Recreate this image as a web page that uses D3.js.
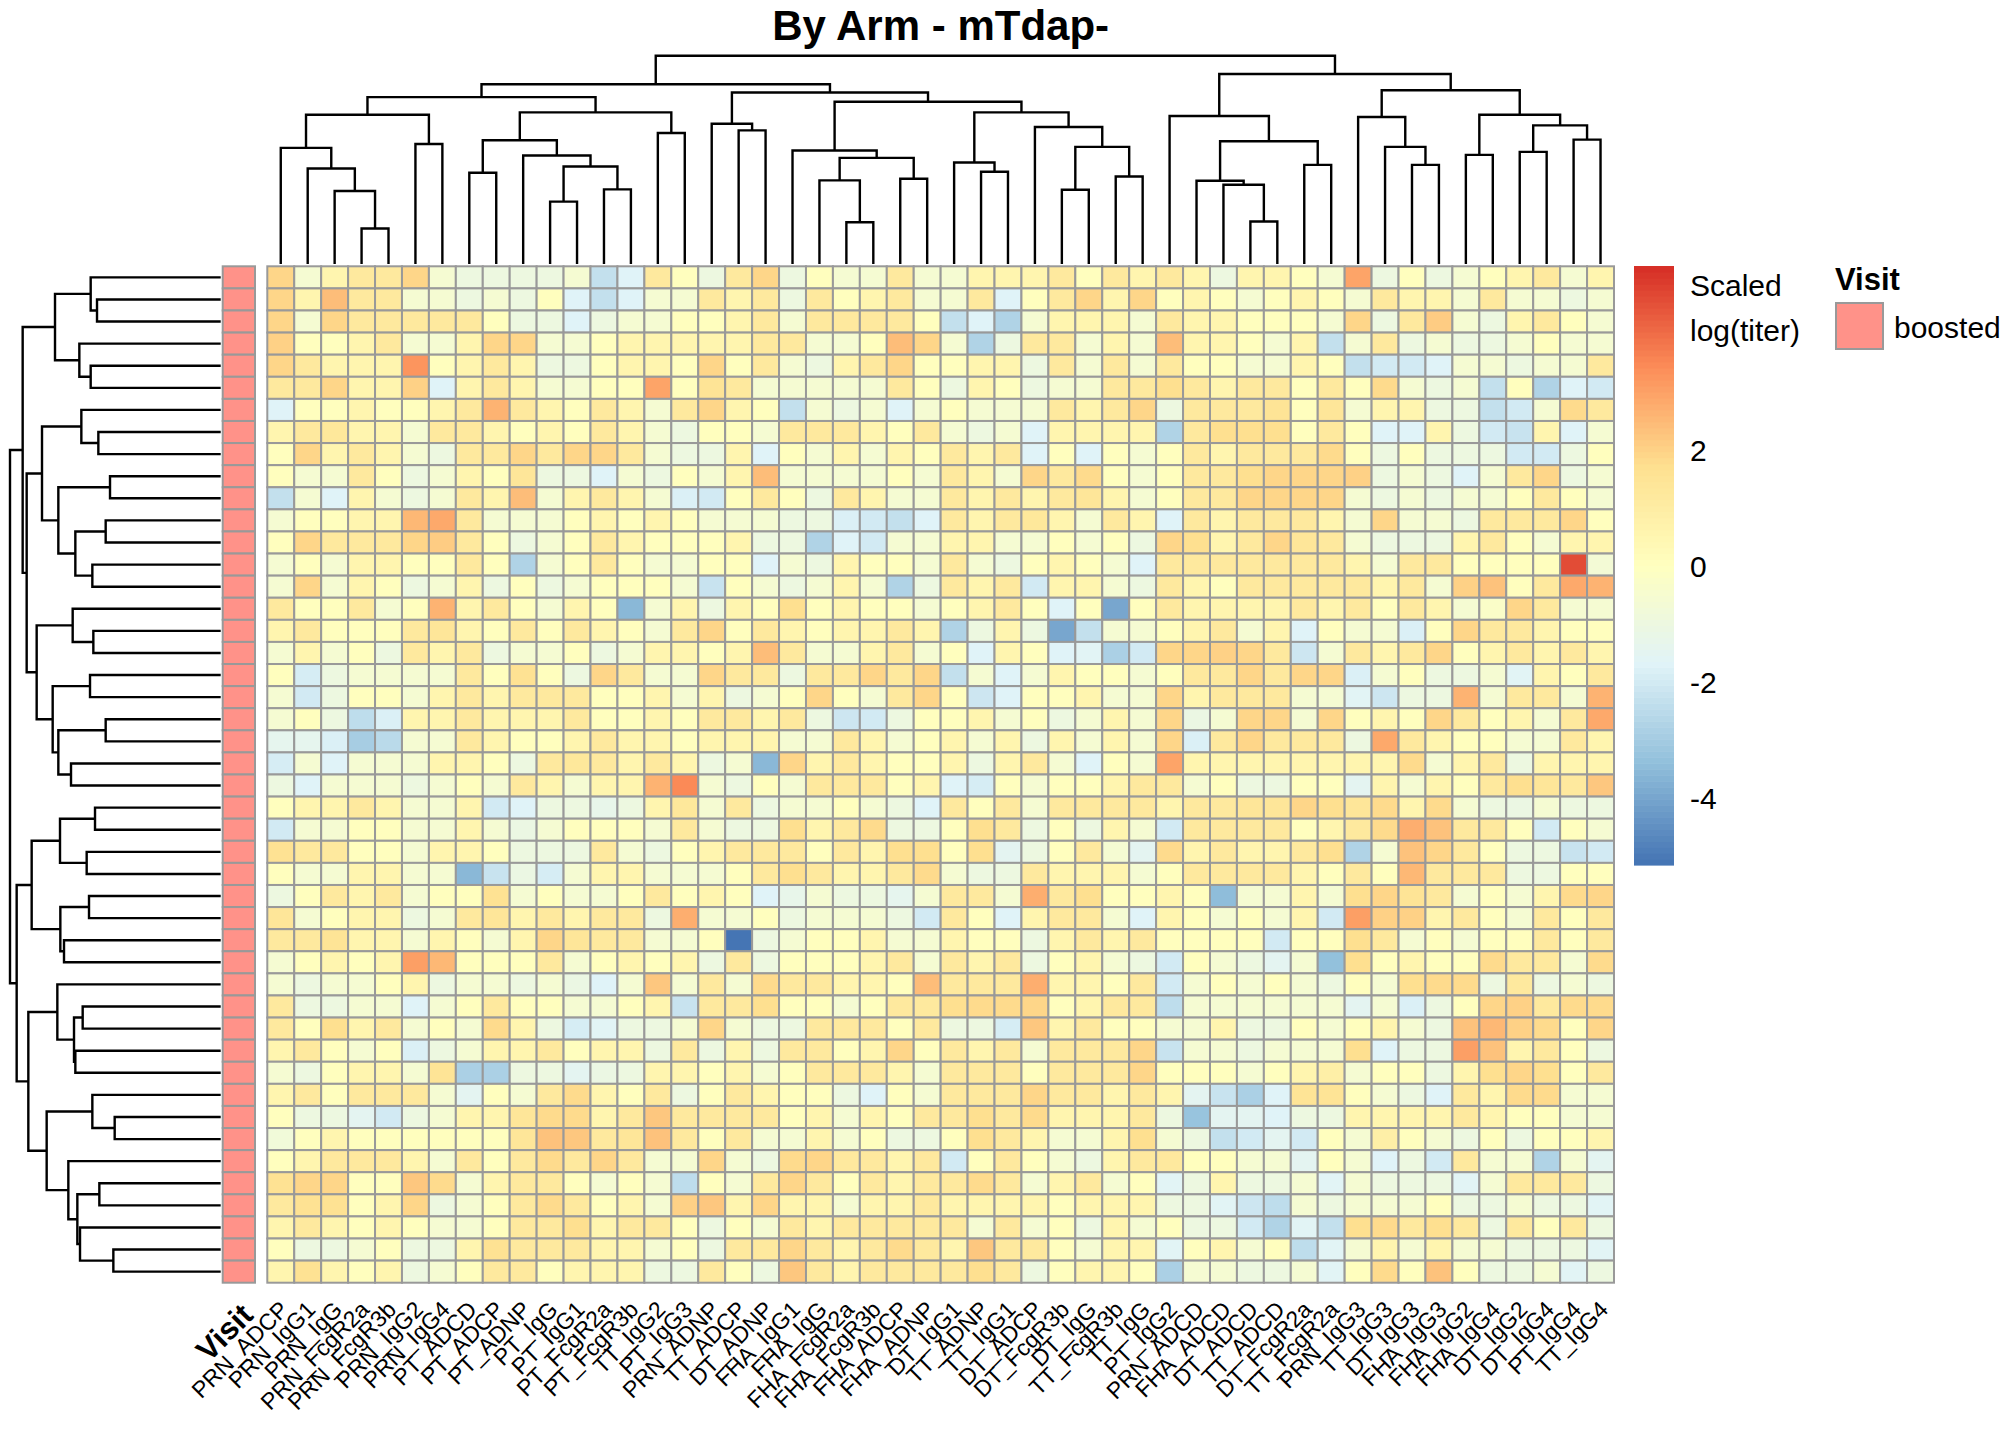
<!DOCTYPE html>
<html><head><meta charset="utf-8">
<script src="https://cdn.jsdelivr.net/npm/d3@7"></script>
<style>body{margin:0;background:#fff} text{font-family:"Liberation Sans",Arial,sans-serif;fill:#000}</style>
</head><body><svg id="chart" width="2016" height="1440"></svg>
<script>
const chartTitle = "By Arm - mTdap-";
const columnLabels = ["PRN_ADCP","PRN_IgG1","PRN_IgG","PRN_FcgR2a","PRN_FcgR3b","PRN_IgG2","PRN_IgG4","PT_ADCD","PT_ADCP","PT_ADNP","PT_IgG","PT_IgG1","PT_FcgR2a","PT_FcgR3b","TT_IgG2","PT_IgG3","PRN_ADNP","TT_ADCP","DT_ADNP","FHA_IgG1","FHA_IgG","FHA_FcgR2a","FHA_FcgR3b","FHA_ADCP","FHA_ADNP","DT_IgG1","TT_ADNP","TT_IgG1","DT_ADCP","DT_FcgR3b","DT_IgG","TT_FcgR3b","TT_IgG","PT_IgG2","PRN_ADCD","FHA_ADCD","DT_ADCD","TT_ADCD","DT_FcgR2a","TT_FcgR2a","PRN_IgG3","TT_IgG3","DT_IgG3","FHA_IgG3","FHA_IgG2","FHA_IgG4","DT_IgG2","DT_IgG4","PT_IgG4","TT_IgG4"];
const visit = ["boosted","boosted","boosted","boosted","boosted","boosted","boosted","boosted","boosted","boosted","boosted","boosted","boosted","boosted","boosted","boosted","boosted","boosted","boosted","boosted","boosted","boosted","boosted","boosted","boosted","boosted","boosted","boosted","boosted","boosted","boosted","boosted","boosted","boosted","boosted","boosted","boosted","boosted","boosted","boosted","boosted","boosted","boosted","boosted","boosted","boosted"];
const visitLevels = ["boosted"];
const visitColors = ["#FF9289"];
const colorStops = ["#4575B4","#91BFDB","#E0F3F8","#FFFFBF","#FEE090","#FC8D59","#D73027"];
const colorRange = [-5.14, 5.19];
const legendTicks = [-4, -2, 0, 2];
const legendTitleLines = ["Scaled", "log(titer)"];
const legendTitleValue = 4.47;

const scaledTiter = [
[1.9,-.5,.6,1.2,1.2,1.9,-.5,-1,-1,-1,-1,-.5,-2.3,-1.7,1.2,.1,-1, 1.2,1.9,-1,.1,-.5,-.5,1.2,-.5,-.5,.6,.6,.6,1.2,.1,1.2,.6, 1.2,.6,-1,.6,.6,.1,-.5,3,-1,.1,-1,-.5,.1,.6,1.2,-.5,.6],
[1.9,.6,2.5,1.2,1.2,-.5,-.5,-1,-.5,-1,.1,-1.7,-2.3,-1.7,-.5,-.5,1.2, .6,1.2,-1,1.2,.1,.6,1.2,-.5,-.5,1.2,-1.7,.1,1.2,1.9,.6,1.9, .1,.6,.1,-.5,.1,.6,.1,-.5,1.2,.6,.6,-.5,1.2,-.5,-.5,-1,-.5],
[1.9,-.5,1.9,1.2,1.2,1.2,1.2,1.2,.1,-1,-1,-1.7,-1,-.5,-.5,.1,.1, .6,1.2,-.5,1.2,1.2,1.2,1.2,.1,-2.3,-1.7,-2.7,-.5,.6,.6,.6,-.5, 1.2,.6,.6,.1,.1,.1,-.5,1.9,-1,1.2,2.1,-.5,-1,.6,1.2,.1,-.5],
[2,.1,.1,.6,1.2,-.5,-.5,.6,1.9,1.9,-.5,-.5,.1,.6,.6,.6,.6, .6,1.2,1.2,-.5,-.5,.1,2.5,1.9,-.5,-2.7,-1,1.2,1.2,-.5,.6,-.5, 2.5,.6,.6,.1,-.5,.6,-2.3,-.5,1.2,-1,-.5,-1,-1,-.5,.1,-.5,-.5],
[1.9,1.2,.6,.6,.6,3.3,.1,.6,1.2,.6,-1,-1,.1,.6,.6,.1,1.9, .1,1.2,-.5,-1,.6,1.2,1.9,.1,.1,.6,.6,-1,1.2,-.5,1.2,-.5, 1.2,.1,.1,-.5,-.5,.6,.1,-2.3,-2,-2,-1.7,-.5,-.5,-1,-.5,-.5,1.2],
[1.2,1.2,1.9,.6,.6,2,-1.7,.6,1.2,.6,-.5,-.5,.1,.1,3,.1,1.5, 1.2,-.5,-.5,-.5,-.5,-.5,1.2,.1,-1,.6,.1,-1,-.5,-.5,1.2,1.2, 1.7,1.2,.6,1.2,1.2,.1,1.2,.1,1.8,-.5,-1,-.5,-2.3,.1,-2.7,-1.7,-2],
[-1.7,.1,.1,.6,.1,.1,.6,1.2,2.7,1.2,.6,.1,1.2,.6,-.5,1.2,1.9, .6,.1,-2.3,-.5,-1,-.5,-1.7,-.5,.1,-.5,-.5,-.5,1.2,.6,1.2,1.9, -1,1.2,1.2,1.2,1.5,.1,1.4,-.5,.6,.6,-1,-1,-2.3,-2,-.5,1.8,1.2],
[.6,1.2,1.3,.6,.6,-.5,1.2,1.2,.6,.1,.6,.1,1.2,.6,-.5,-1,.1, .1,-.5,1.2,1.2,1.2,.6,.1,1.2,-.5,-1,-.5,-1.7,.6,.6,.6,.6, -2.7,1.2,1.7,1.7,1.7,.1,1.2,.1,-1.7,-1.7,.6,-1,-2,-2.2,.6,-1.7,-.5],
[.1,1.9,.6,1.2,.6,-.5,-1,1.2,1.2,1.9,1.2,1.9,1.9,1.2,-.5,-1,-1, .6,-1.7,.1,-.5,.6,-.5,.6,.1,1.2,.6,1.2,-1.7,.1,-1.7,.1,-.5, .1,1.2,.6,1.2,1.2,1.2,1.8,.1,-1,.1,-1,-1,-1,-2,-2,-1,.1],
[.1,-.5,-.5,1.2,.1,-1,-.5,.6,.1,1.4,-1,-1,-1.7,-.5,-1,.1,-.5, .6,2.5,-.5,-.5,-.5,-.5,.1,-.5,1.2,.6,-.5,1.9,1.2,1.8,.1,-.5, .1,1.2,1.2,1.7,1.9,1.9,1.9,2,-1,-.5,-1,-1.7,-.5,1.2,1.9,-1,-.5],
[-2.3,-.5,-1.7,.6,-.5,-1,-.5,1.2,.6,2.5,-.5,.6,1.2,.6,-.5,-1.8,-2, .1,1.2,.1,-1,1.2,.6,-.5,-.5,1.2,.6,1.2,.6,1.2,1.4,.6,-.5, .1,1.2,1.2,1.9,1.9,1.9,1.9,-.5,-1,-.5,-1,-.5,-.5,.1,1.2,.1,-.5],
[-.5,.1,.1,.6,.6,2.6,2.9,1.2,-.5,-.5,-.5,.1,.6,.1,.6,.1,-.5, -.5,-.5,-1,-1,-1.8,-2,-2.3,-1.7,1.2,.6,1.2,1.3,.6,-.5,1.2,.6, -1.7,1.2,.6,1.2,1.2,1.2,.6,-.5,1.9,-.5,-.5,-1,1.2,1.2,1.2,1.9,.1],
[.1,1.9,1.2,1.2,1.2,1.9,2.1,1.2,.1,-1,-.5,.1,1.2,.6,.1,.1,.1, .6,-1,-1,-2.7,-1.7,-2,-.5,-.5,.6,.6,-.5,-.5,.1,-.5,.1,-1, 1.9,1.7,.6,1.2,1.9,1.4,1.2,-.5,-1,-1,-1,.6,1.2,.1,-.5,.6,.6],
[-.5,.1,-.5,.6,.6,.1,.1,1.2,.1,-2.7,-.5,.1,1.2,.1,-.5,-.5,.1, .1,-1.7,-.5,-1,.6,.1,.1,-.5,1.2,-.5,-1,.1,.6,.1,-.5,-1.7, 1.2,1.2,1.2,1.2,1.2,1.2,1.2,.6,-.5,1.2,1.2,.1,.1,.1,.1,4.6,-.6],
[-.5,1.9,-.5,.6,.1,-1,-.5,.6,-1,.1,-1,-.5,.1,.1,.1,-.5,-2.2, .1,-.5,-1,-.5,.6,-.5,-2.7,-1,1.2,.6,1.2,-2,.6,.6,-.5,-1, 1.2,.6,.1,1.2,1.2,1.2,1.2,1.2,.6,1.2,-.5,2,2.4,.1,1.2,2.9,2.7],
[1.2,.1,.1,1.2,-.5,.1,2.7,.6,1.2,.1,-.5,.6,.1,-3.5,-.5,.6,-1, .6,.1,1.7,.1,.6,.1,.1,-.5,.1,.6,1.2,.1,-1.7,.1,-4,.1, 1.2,.6,.6,.6,.6,1.2,.6,1.2,.1,1.2,.6,-.5,-.2,1.9,1.2,-.5,-.5],
[.6,1.2,.1,.1,.1,1.2,1.4,.6,.1,1.2,.1,1.2,.6,.1,-.5,1.2,1.9, .1,1.2,.6,.1,.6,.6,1.2,.6,-2.7,-1,.6,-1,-4,-2.3,-.5,-.5, .1,.6,1.2,-.5,.6,-1.7,.1,-.5,-.5,-1.8,.1,1.9,1.2,1.2,.6,.1,.1],
[-.5,.6,-.5,.1,-1,1.2,.6,1.2,-1,-.5,-.5,.1,-1,-.5,.6,.6,.1, .6,2.5,1.2,-.5,-.5,.6,1.2,-.5,.1,-1.7,.6,.1,-1.7,-1.6,-2.8,-2, 1.9,1.9,2,1.9,1.2,-2.1,-.5,1.2,.6,1.2,1.9,.1,.6,1.2,.6,1.2,.6],
[.1,-1.9,-1,-.5,-.5,-.5,-.5,1.2,.1,1.6,.1,-1,1.9,1.2,-.5,-.5,1.9, 1.2,1.2,-1,1.2,1.2,1.9,1.2,1.9,-2.3,-.5,-1.7,-.5,.6,.1,.1,-.5, .1,1.2,1.2,1.9,1.2,1.9,1.9,-1.8,-.5,.1,-1,-1,-.5,-1.6,.6,.1,1.2],
[-.5,-2,-1,.1,.1,-.5,.6,1.2,.6,1.2,1.2,1.2,.1,.1,.6,-.5,.6, -1,-.5,.1,1.9,.1,-.5,1.2,1.9,.1,-2.1,-1.7,.1,.1,.6,-.5,-.5, 1.9,.6,1.2,1.2,1.2,-.5,-.5,-1.6,-2.1,-1,-1,2.7,-.5,1.2,1.2,-.5,2.7],
[-.5,.1,-1,-2.4,-1.8,.6,.6,1.2,.6,.6,.6,1.2,.1,.1,.6,.1,1.2, 1.2,.6,1.2,-1,-2.1,-2,-1,.1,.1,.6,-.5,.1,-1,-.5,.6,-.5, 1.9,-1.1,-.5,1.9,1.9,-.5,1.9,.1,.6,.1,1.9,1.2,.1,.6,-.5,1.2,2.9],
[-1.4,-1.4,-1.8,-2.9,-2.5,-.5,-.5,1.2,.6,.1,.1,.6,1.2,.6,.6,.1,.6, .6,.6,-.5,-.5,1.2,.6,-.5,.1,.6,-.5,.6,-1,.6,-.5,.6,-.5, 1.9,-1.8,1.2,1.9,1.2,1.2,1.2,-1,2.9,1.2,.6,.1,.1,-.5,-.5,1.2,.6],
[-1.9,-.5,-1.7,-.5,-.5,-.5,.6,.6,.1,-1,1.2,1.3,1.2,.6,1.2,.6,-1, -.5,-3.5,1.9,.6,1.2,.6,.1,.1,.6,-1,.6,1.2,-.5,-1.7,.1,-.5, 3,.6,.6,.6,.6,.6,.6,.6,.6,1.8,-.5,.6,1.2,-1,.6,.6,.6],
[-1,-1.7,-.5,-.5,-.5,-1,-.5,.1,-.5,1.2,.6,-.5,.6,.6,2.7,3.5,-.5, -1,.1,-.5,1.2,1.2,1.2,.1,.6,-1.7,-1.9,.1,-.5,.1,.1,.6,1.2, 1.2,-.5,.1,-1,-1,.1,.1,-1.5,.6,-.5,.6,.1,1.2,1.7,1.4,1.2,2.2],
[.1,.6,.6,1.2,.6,-.5,-.5,.6,-2,-1.7,-1,-1,-1.3,-1,.6,1.3,-.5, 1.2,-1,-.5,-.5,.1,-.5,-1,-1.7,1.2,.1,1.2,-.5,1.2,1.2,1.2,1.2, .6,1.2,1.2,1.4,1.4,1.9,1.7,1.4,1.8,.6,1.8,-.5,-1,-1.1,-.5,-1,-1],
[-2,-.5,-.5,.1,.1,-.5,-.5,.6,-.5,-1.1,-.5,.1,.1,.1,-.5,1.2,-.5, -1,-1,1.7,.6,1.2,1.8,-1,-1,.1,1.7,1.2,-1,.1,-1,.6,-.5, -2,1.2,1.2,1.2,1.2,.1,.6,1.2,1.8,2.8,2.4,1.2,1.2,.1,-2,.1,-.5],
[1.6,1.2,1.2,.1,.1,-.5,.6,.6,.1,-1,-1,-1,1.2,-.5,-1,.1,.6, 1.2,1.2,1.2,.1,1.2,.6,1.7,1.7,.1,1.7,-1.5,-1,.1,1.2,-.5,-1.5, 1.8,.6,1.2,.6,.6,1.2,1.7,-2.7,-.5,2.3,1.9,1.2,.1,-1,-1,-2.2,-2],
[.1,-.5,-.5,.6,.6,-.5,-.5,-3.5,-2.2,-1.1,-1.9,-.5,.6,.6,-.5,-.5,-.5, .1,1.2,1.7,1.2,.6,.6,1.2,1.8,-.5,-1,-1,1.2,.6,.6,.6,-.5, .1,1.2,1.2,1.2,1.2,.6,.1,1.2,.1,2.6,1.2,1.2,1.2,-1,-1,.1,.1],
[-1,.1,1.2,.6,1.2,-.5,.1,.1,1.6,-.5,.1,-.5,-.5,.1,1.2,.1,.6, .1,-1.7,-1.3,-.5,-1,-1,-1.4,-.5,1.2,1.2,-.5,2.8,1.2,1.7,.1,.1, .6,.1,-3.4,-.5,-.5,.6,-.5,1.7,1.9,1.5,1.2,-.5,.1,-.5,.6,1.8,1.9],
[1.4,-.5,.1,.6,.6,-1,-.5,1.2,1.4,.6,1.2,.6,1.2,1.2,-1,2.8,-.5, -.5,.1,-1,-.5,-.5,-.5,-1,-2,1.2,.1,-1.7,.6,1.2,1.2,-.5,-1.7, .6,.1,-.5,.1,-.5,.6,-2,3.1,2,2,.6,1.2,.1,-.5,1.2,.1,1.2],
[1.2,1.2,1.5,.6,.6,-.5,.6,.1,-.5,.6,1.9,1.4,1.2,1.2,-.5,-.5,.1, -5.1,-1,-.5,.1,.1,.6,-.5,-.5,.6,.1,.1,-1,.6,1.2,.6,1.2, .1,.1,.1,.1,-2,.1,.1,1.7,1.2,-.5,.1,-.5,.1,.1,1.2,.1,1.2],
[-.5,.1,.6,.1,.6,3.1,2.6,.1,.1,.1,1.2,-.5,.1,.6,.1,.6,-1, 1.2,-1,.1,.1,.1,.6,1.2,-.5,1.2,.6,1.2,-1,.1,.6,-.5,-1, -2,.1,-.5,-1,-1.5,-.5,-3.3,1.7,.1,.6,.1,.1,1.8,1.2,1.2,-.5,1.8],
[-.5,-1,-.5,-.5,.1,.6,-1,-.5,-.5,-1,-.5,-1.1,-1.7,-.5,2.2,-.5,1.2, -.5,1.8,1.2,1.2,.6,.6,.1,2.5,1.2,1.2,1.2,2.8,.6,.6,.1,1.2, -2,-.5,.1,-.5,.1,-.5,-1,.1,-.5,1.7,1.8,1.8,-1,1.2,-1,-.5,-1],
[1.2,-1,-1,-.5,-.5,-1.7,-.5,.1,1.2,.1,.1,-.5,-.5,.1,.6,-2.2,1.2, 1.2,1.7,.1,.1,-.5,.1,1.2,1.2,1.7,1.8,1.8,1.9,.1,.6,1.2,1.2, -2.4,-.5,-.5,-.5,-.5,-.5,-.5,-1.5,-.5,-1.8,-1,.1,1.9,2,1.2,1.8,1.8],
[1.2,.1,1.7,.6,1.2,-.5,.1,-.5,1.8,.6,-1,-1.9,-1.6,-1,-1,-.5,1.9, -.5,-1,-1,1.2,1.2,1.2,.1,1.2,-1,-1,-1.9,2.2,.6,1.2,.1,.1, -.5,-.5,.6,-1,-1,.1,-.5,.1,.6,-.5,-1,2.4,2.6,2,1.8,.1,1.9],
[.6,1.2,.1,-.5,.1,-1.8,-1,-.5,.6,.6,1.2,.1,.6,.6,-1,1.2,-1, .6,-1,1.2,1.2,.1,.6,1.9,.1,1.2,.6,1.2,-.5,1.2,1.2,1.2,1.9, -2.2,-.5,-.5,-1,-.5,-.5,-.5,1.7,-1.7,-1,-1,3.1,2.3,.6,1.2,.1,-1],
[-.5,-1,.1,.6,.6,-.5,1.5,-2.8,-2.8,-1,-1,-1.5,-1.1,-1,.6,.6,.1, .6,-.5,.1,1.2,1.2,1.2,.6,-.5,1.2,1.2,1.2,.1,1.2,1.2,1.2,1.9, .1,.1,.1,-.5,.1,.6,.9,-.5,.1,.1,-1,.6,1.7,1.9,1.7,.1,1.2],
[.6,1.2,.1,1.2,1.2,1.2,-.5,-1.5,.1,-.5,1.2,1.8,.6,.1,1.2,-1,.1, 1.2,.6,.1,.1,-1,-1.7,.1,-.5,1.2,1.2,1.2,1.9,1.2,1.2,.6,1.2, .6,-1.5,-2.2,-2.8,-1.7,1.5,1.5,.1,-.5,-1,-1.7,1.2,.6,1.8,1.8,-.5,-.5],
[.1,-1,-1,-1.5,-2,-1,-.5,.6,.6,1.4,1.8,1.8,.6,1.2,2.2,1.2,1.2, 1.2,1.2,.1,.6,-.5,.6,.1,1.2,1.2,1.7,1.2,1.8,.6,.6,.6,1.2, -1,-3.2,-1.5,-1.5,-1.7,-1,-1,.6,.6,.6,.6,1.2,.6,.1,.1,-.5,-.5],
[-.7,.1,.6,.1,.1,.1,.1,.1,.1,1.4,2.4,2.2,1.2,1.4,2.3,1.2,.1, 1.2,-.5,-.5,.6,-.5,.1,-1,-1,.1,1.7,1.2,.6,-.5,-.5,.6,1.7, -.5,-1,-2.3,-2,-1.5,-2,.1,-.5,.9,.1,-.5,-1,.1,-1,.1,.1,.6],
[.1,.6,1.2,1.2,1.2,.6,-.5,1.2,.1,1.2,1.8,1.2,1.9,1.2,-.5,-.5,1.9, -.5,-1,1.8,1.9,1.2,1.2,.6,1.2,-2,.1,1.2,.1,-.5,-1,.6,1.2, 1.2,.1,.1,-.5,-.5,-1.5,.1,-.5,-1.7,-1,-2,1.2,-.5,-.5,-2.7,-.5,-1.5],
[1.6,1.9,1.9,.1,.1,2.2,1.8,-.5,.6,1.2,1.2,.1,-.5,.1,-.5,-2.4,.1, -.5,1.2,1.9,1.2,.1,1.2,.6,1.2,1.2,1.8,1.2,-.5,.6,1.2,-.5,.1, -1.6,-1,.6,-1,-1,-.5,-1.6,-.5,-1,-1,-1,-1.6,-.5,1.2,1.2,1.2,-1],
[1.2,1.6,1.6,.1,.6,1.9,-1,-.5,.1,1.2,1.8,1.2,.1,.6,-.5,2,2.2, .6,1.9,.6,.6,-.5,.6,.6,1.2,.6,.6,.6,.6,.1,.6,.6,.6, -1,-1,-1.6,-2.1,-2.4,-.5,-1,-.5,-.5,-.5,.1,-1,-1,-.5,-1,-1,-1.6],
[.6,1.2,.6,.1,.6,.1,-.5,-.5,.1,1.2,1.2,1.7,.6,1.2,1.2,.1,-1, .1,-.5,1.2,.6,1.2,1.2,1.2,1.2,1.2,-.5,1.2,-.5,.1,-1,.6,-.5, .1,-1,-1,-2,-2.7,-1.6,-2.3,1.7,1.8,1.2,1.7,1.2,-1,1.2,.1,1.2,-1],
[.1,-1,-1,-.5,.1,-1,-1,.6,1.6,1.2,1.2,1.2,.6,.6,-.5,.1,-1, 1.2,1.2,1.9,1.2,.6,1.2,1.8,1.2,.6,2.2,1.2,1.2,.1,-.5,.6,.6, -1.6,.1,.6,-.5,.1,-2.4,-1.6,-.5,.6,-.5,.6,-.5,-.5,-1,-1,-1,-1.6],
[.6,1.6,.6,.1,.6,-1,-.5,.1,1.2,1.2,.1,.6,.6,.6,-1,-1,1.2, .1,-1,2.2,1.2,.6,1.2,1.2,1.2,1.2,1.7,1.2,-1,.1,.6,.6,.1, -2.8,-.5,-.5,-1,-1,-.5,-1.6,.1,1.8,.1,2.4,.1,-1,-1,-.5,-1.6,-1]
];

// Clustering trees: [left, right, mergeHeight]; numbers are leaf indices
const columnTree = [
  [
    [
      [[0,[1,[2,[3,4,107],220],288],350],[5,6,362],450],
      [[[7,8,275],[9,[[10,11,188],[12,13,225],294],327],373],[14,15,395],457],
      503],
    [
      [16,[17,18,403],423],
      [[19,[[20,[21,22,126],252],[23,24,257],320],342],
       [[25,[26,27,278],306],[28,[[29,30,224],[31,32,264],353],413],457],
       489],
      517],
    542],
  [
    [33,[[34,[35,[36,37,128],239],251],[38,39,299],370],446],
    [[40,[41,[42,43,299],353],443],
     [[44,45,329],[[46,47,338],[48,49,375],418],450],
     524],
    573],
  628];

const rowTree = [
  [
    [[0,[1,2,371],390],[3,[4,5,390],424],497],
    [
      [[6,[7,8,367],418],[[9,10,332],[[11,12,345],[13,14,385],436],487],536],
      [[15,[16,17,382],444],[[18,19,392],[[20,21,345],[22,23,449],487],504],552],
      582],
    594],
  [
    [[[24,25,377],[26,27,402],482],[[28,29,395],[30,31,470],481],567],
    [
      [32,[[33,34,414],[35,36,436],440],490],
      [[37,[38,39,318],385],[40,[[41,42,364],[43,[44,45,322],422],430],457],522],
      577],
    612],
  632];

// ---------- drawing ----------
const svg = d3.select("#chart");
const x = d3.scaleBand().domain(d3.range(columnLabels.length)).range([267.3, 1614]);
const y = d3.scaleBand().domain(d3.range(scaledTiter.length)).range([266.3, 1282.7]);
const [lo, hi] = colorRange;
const ramp = d3.scaleLinear()
  .domain(colorStops.map((c, i) => lo + i * (hi - lo) / (colorStops.length - 1)))
  .range(colorStops).interpolate(d3.interpolateRgb);
const nBins = 100;
const palette = d3.range(nBins).map(i => ramp(lo + i * (hi - lo) / (nBins - 1)));
const color = d3.scaleQuantize().domain([lo, hi]).range(palette);

// title
svg.append("text").attr("x", (x.range()[0] + x.range()[1]) / 2).attr("y", 40)
  .attr("text-anchor", "middle").attr("font-size", 42).attr("font-weight", "bold")
  .text(chartTitle);

// heatmap cells
const cells = scaledTiter.flatMap((row, r) => row.map((v, c) => ({ r, c, v })));
svg.append("g").selectAll("rect").data(cells).join("rect")
  .attr("x", d => x(d.c)).attr("y", d => y(d.r))
  .attr("width", x.bandwidth()).attr("height", y.bandwidth())
  .attr("fill", d => color(d.v))
  .attr("stroke", "#999999").attr("stroke-width", 2);

// annotation column (Visit)
const visitColor = d3.scaleOrdinal().domain(visitLevels).range(visitColors);
const annX = d3.scaleBand().domain(["Visit"]).range([222.7, 255]);
svg.append("g").selectAll("rect").data(visit).join("rect")
  .attr("x", annX("Visit")).attr("y", (d, i) => y(i))
  .attr("width", annX.bandwidth()).attr("height", y.bandwidth())
  .attr("fill", d => visitColor(d)).attr("stroke", "#999999").attr("stroke-width", 2);

// dendrograms
function drawDendro(tree, leafPos, hScale, orient) {
  const segs = [];
  (function walk(node) {
    if (typeof node === "number") return { p: leafPos(node), h: 0 };
    const a = walk(node[0]), b = walk(node[1]), h = node[2];
    segs.push([a, b, h]);
    return { p: (a.p + b.p) / 2, h };
  })(tree);
  svg.append("g").selectAll("path").data(segs).join("path")
    .attr("d", ([a, b, h]) => orient === "top"
      ? `M${a.p},${hScale(a.h)}V${hScale(h)}H${b.p}V${hScale(b.h)}`
      : `M${hScale(a.h)},${a.p}H${hScale(h)}V${b.p}H${hScale(b.h)}`)
    .attr("fill", "none").attr("stroke", "#000").attr("stroke-width", 2.4);
}
const colH = d3.scaleLinear().domain([0, columnTree[2]]).range([264, 55.7]);
drawDendro(columnTree, i => x(i) + x.bandwidth() / 2, colH, "top");
const rowH = d3.scaleLinear().domain([0, rowTree[2]]).range([220.7, 10]);
drawDendro(rowTree, i => y(i) + y.bandwidth() / 2, rowH, "left");

// column labels
const labelFont = 23;
svg.append("g").selectAll("text").data(columnLabels).join("text")
  .attr("transform", (d, i) => `translate(${x(i) + x.bandwidth() / 2 + 9},1311) rotate(-45)`)
  .attr("text-anchor", "end").attr("font-size", labelFont).text(d => d);
svg.append("text")
  .attr("transform", `translate(${annX("Visit") + annX.bandwidth() / 2 + 16},1317) rotate(-45)`)
  .attr("text-anchor", "end").attr("font-size", 31).attr("font-weight", "bold").text("Visit");

// color legend
const legY = d3.scaleLinear().domain([lo, hi]).range([865, 266]);
const binEdges = d3.range(nBins + 1).map(i => lo + i * (hi - lo) / nBins);
svg.append("g").selectAll("rect").data(palette).join("rect")
  .attr("x", 1634).attr("width", 40)
  .attr("y", (c, i) => legY(binEdges[i + 1]))
  .attr("height", (c, i) => legY(binEdges[i]) - legY(binEdges[i + 1]) + 0.6)
  .attr("fill", c => c);
svg.append("g").selectAll("text").data(legendTicks).join("text")
  .attr("x", 1690).attr("y", d => legY(d)).attr("dominant-baseline", "central")
  .attr("font-size", 30).text(d => d);
svg.append("g").selectAll("text").data(legendTitleLines).join("text")
  .attr("x", 1690).attr("y", (d, i) => legY(legendTitleValue) + (i - 0.5) * 45)
  .attr("dominant-baseline", "central").attr("font-size", 30).text(d => d);

// Visit legend
svg.append("text").attr("x", 1835).attr("y", 290).attr("font-size", 31)
  .attr("font-weight", "bold").text("Visit");
svg.append("g").selectAll("rect").data(visitLevels).join("rect")
  .attr("x", 1836).attr("y", (d, i) => 303 + i * 48).attr("width", 47).attr("height", 46)
  .attr("fill", d => visitColor(d)).attr("stroke", "#999999").attr("stroke-width", 2);
svg.append("g").selectAll("text").data(visitLevels).join("text")
  .attr("x", 1894).attr("y", (d, i) => 338 + i * 48).attr("font-size", 30).text(d => d);
</script></body></html>
